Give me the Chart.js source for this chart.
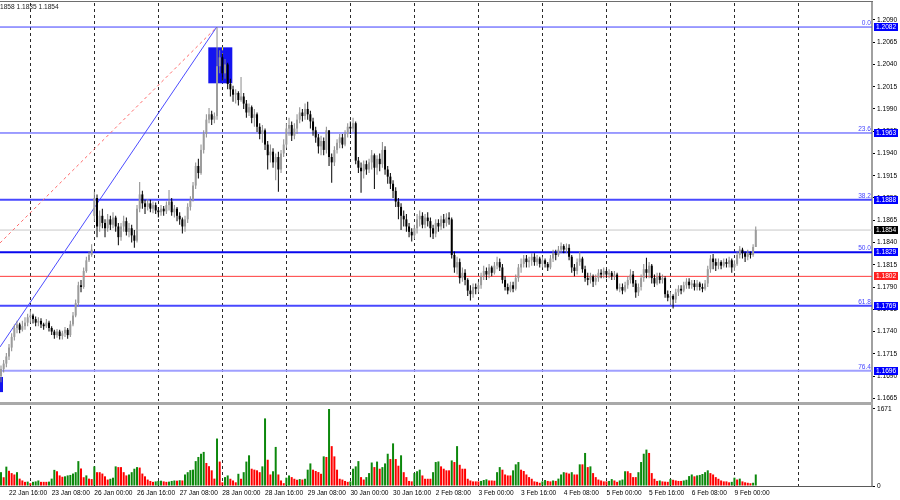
<!DOCTYPE html>
<html>
<head>
<meta charset="utf-8">
<title>EURUSD H1</title>
<script src="https://cdn.jsdelivr.net/npm/chart.js@4.4.1/dist/chart.umd.min.js"></script>
<style>
  html, body { margin: 0; padding: 0; background: #fff; }
  #wrap { position: relative; width: 900px; height: 500px; overflow: hidden; background: #fff; }
  #mainChart { position: absolute; left: 0; top: 0; }
  #volChart { position: absolute; left: 0; top: 405px; }
  .topLine { position: absolute; left: 0; top: 1px; width: 873px; height: 1px; background: #6e6e6e; }
  .splitter { position: absolute; left: 0; top: 402px; width: 873px; height: 3px; background: #a9a9a9; }
  .baseLine { position: absolute; left: 0; top: 486px; width: 873px; height: 1px; background: #5a5a5a; }
  .info { position: absolute; left: 0; top: 3px; font: 6.6px "Liberation Sans", Arial, sans-serif; color: #222; white-space: nowrap; }
</style>
</head>
<body>
<div id="wrap">
  <canvas id="mainChart" width="900" height="405"></canvas>
  <canvas id="volChart" width="900" height="95"></canvas>
  <div class="topLine"></div>
  <div class="splitter"></div>
  <div class="baseLine"></div>
  <div class="info">1858 1.1835 1.1854</div>
</div>
<script>
const FONT = '"Liberation Sans", Arial, sans-serif';

// hourly bars, 22 Jan 13:00 .. 9 Feb 08:00 (bar index = position)
const firstOpen = 1.1690;
const gapBar = 35;          // Monday 26 Jan open gap
const gapOpen = 1.1870;

const closes = [
  1.1698,1.1704,1.1712,1.1722,1.1734,1.1744,1.1748,1.1742,1.1746,1.1750,1.1756,
  1.1758,1.1754,1.1750,1.1752,1.1748,1.1746,1.1750,1.1744,1.1740,1.1736,1.1740,1.1735,1.1738,1.1742,1.1736,1.1748,1.1758,1.1772,1.1792,1.1790,1.1808,1.1820,1.1826,1.1832,
  1.1890,1.1858,1.1870,1.1862,1.1856,1.1866,1.1860,1.1868,1.1858,1.1846,1.1858,1.1864,1.1852,1.1856,1.1848,1.1842,1.1878,1.1894,1.1884,1.1880,1.1884,1.1878,1.1882,1.1876,
  1.1874,1.1878,1.1875,1.1882,1.1886,1.1874,1.1878,1.1870,1.1866,1.1858,1.1866,1.1880,1.1888,1.1904,1.1926,1.1918,1.1944,1.1962,1.1978,1.1984,1.1978,1.1982,1.2038,1.2048,
  1.2030,1.2040,1.2018,1.2012,1.2006,1.2008,1.2000,1.2004,1.1996,1.1986,1.1992,1.1980,1.1984,1.1970,1.1962,1.1966,1.1950,1.1938,1.1942,1.1930,1.1936,1.1922,1.1940,1.1950,
  1.1968,1.1972,1.1960,1.1968,1.1978,1.1986,1.1982,1.1990,1.1984,1.1976,1.1966,1.1958,1.1948,1.1954,1.1944,1.1966,1.1936,1.1930,1.1944,1.1952,1.1958,1.1950,1.1962,1.1970,
  1.1968,1.1974,1.1932,1.1924,1.1920,1.1928,1.1922,1.1930,1.1938,1.1924,1.1934,1.1928,1.1944,1.1922,1.1914,1.1906,1.1898,1.1886,1.1880,1.1870,1.1866,1.1858,1.1852,1.1848,
  1.1856,1.1866,1.1870,1.1860,1.1868,1.1864,1.1856,1.1850,1.1862,1.1858,1.1866,1.1862,1.1868,1.1866,1.1826,1.1812,1.1818,1.1800,1.1806,1.1798,1.1786,1.1782,1.1790,1.1788,
  1.1792,1.1802,1.1808,1.1804,1.1812,1.1806,1.1814,1.1818,1.1812,1.1798,1.1790,1.1786,1.1792,1.1788,1.1800,1.1812,1.1816,1.1822,1.1818,1.1820,1.1824,1.1818,1.1822,1.1816,
  1.1820,1.1816,1.1812,1.1822,1.1828,1.1826,1.1832,1.1836,1.1832,1.1834,1.1824,1.1812,1.1808,1.1818,1.1822,1.1810,1.1800,1.1798,1.1802,1.1796,1.1800,1.1806,1.1804,1.1808,
  1.1804,1.1806,1.1802,1.1804,1.1788,1.1790,1.1786,1.1792,1.1798,1.1804,1.1794,1.1784,1.1790,1.1800,1.1810,1.1806,1.1814,1.1800,1.1794,1.1802,1.1798,1.1800,1.1782,1.1778,
  1.1780,1.1776,1.1784,1.1788,1.1786,1.1792,1.1796,1.1792,1.1794,1.1790,1.1794,1.1790,1.1788,1.1794,1.1810,1.1822,1.1818,1.1814,1.1818,1.1814,1.1818,1.1816,1.1820,1.1812,
  1.1816,1.1826,1.1832,1.1828,1.1824,1.1828,1.1826,1.1835,1.1854
];

const highs = [
  1.1702,1.1708,1.1716,1.1726,1.1738,1.1748,1.1752,1.1750,1.1752,1.1756,1.1760,
  1.1764,1.1760,1.1757,1.1756,1.1755,1.1750,1.1754,1.1752,1.1746,1.1742,1.1743,1.1742,1.1741,1.1745,1.1744,1.1752,1.1762,1.1776,1.1796,1.1798,1.1812,1.1824,1.1830,1.1838,
  1.1897,1.1894,1.1876,1.1878,1.1866,1.1872,1.1870,1.1874,1.1870,1.1862,1.1862,1.1870,1.1868,1.1862,1.1860,1.1854,1.1882,1.1908,1.1898,1.1888,1.1889,1.1888,1.1886,1.1885,
  1.1880,1.1882,1.1881,1.1886,1.1899,1.1890,1.1882,1.1880,1.1874,1.1868,1.1870,1.1884,1.1892,1.1908,1.1930,1.1934,1.1950,1.1966,1.1984,1.1991,1.1988,1.1986,1.2082,1.2056,
  1.2052,1.2046,1.2042,1.2024,1.2016,1.2012,1.2010,1.2026,1.2008,1.2000,1.1996,1.1994,1.1990,1.1986,1.1974,1.1972,1.1968,1.1954,1.1950,1.1946,1.1940,1.1942,1.1944,1.1956,
  1.1974,1.1980,1.1976,1.1974,1.1984,1.1992,1.1990,1.1996,1.1998,1.1988,1.1980,1.1970,1.1962,1.1960,1.1958,1.1970,1.1966,1.1940,1.1948,1.1956,1.1962,1.1962,1.1966,1.1974,
  1.1976,1.1980,1.1976,1.1936,1.1930,1.1932,1.1932,1.1934,1.1944,1.1940,1.1938,1.1940,1.1953,1.1948,1.1926,1.1918,1.1910,1.1902,1.1890,1.1884,1.1876,1.1872,1.1862,1.1856,
  1.1860,1.1872,1.1876,1.1874,1.1872,1.1874,1.1868,1.1860,1.1866,1.1866,1.1870,1.1872,1.1873,1.1874,1.1868,1.1830,1.1824,1.1822,1.1812,1.1810,1.1800,1.1792,1.1794,1.1794,
  1.1796,1.1806,1.1814,1.1812,1.1816,1.1814,1.1818,1.1824,1.1822,1.1816,1.1802,1.1794,1.1796,1.1796,1.1804,1.1816,1.1822,1.1826,1.1826,1.1824,1.1828,1.1828,1.1826,1.1824,
  1.1824,1.1822,1.1818,1.1826,1.1832,1.1832,1.1836,1.1840,1.1838,1.1839,1.1838,1.1826,1.1816,1.1822,1.1830,1.1824,1.1814,1.1806,1.1806,1.1804,1.1804,1.1810,1.1810,1.1812,
  1.1810,1.1810,1.1808,1.1808,1.1806,1.1794,1.1794,1.1796,1.1802,1.1810,1.1808,1.1798,1.1794,1.1804,1.1816,1.1823,1.1818,1.1816,1.1804,1.1806,1.1806,1.1804,1.1802,1.1786,
  1.1784,1.1782,1.1788,1.1792,1.1792,1.1796,1.1800,1.1800,1.1798,1.1798,1.1798,1.1796,1.1794,1.1798,1.1814,1.1826,1.1827,1.1822,1.1822,1.1820,1.1822,1.1822,1.1824,1.1822,
  1.1820,1.1830,1.1836,1.1834,1.1830,1.1832,1.1830,1.1838,1.1858
];

const lows = [
  1.1683,1.1694,1.1700,1.1708,1.1718,1.1730,1.1738,1.1738,1.1740,1.1742,1.1746,
  1.1750,1.1749,1.1746,1.1746,1.1744,1.1742,1.1744,1.1740,1.1736,1.1732,1.1733,1.1731,1.1731,1.1734,1.1732,1.1734,1.1746,1.1756,1.1768,1.1784,1.1788,1.1806,1.1818,1.1824,
  1.1864,1.1846,1.1852,1.1856,1.1846,1.1852,1.1854,1.1856,1.1852,1.1837,1.1842,1.1852,1.1848,1.1846,1.1840,1.1834,1.1840,1.1874,1.1878,1.1872,1.1876,1.1874,1.1873,1.1872,
  1.1868,1.1870,1.1870,1.1872,1.1876,1.1870,1.1868,1.1864,1.1860,1.1850,1.1852,1.1862,1.1876,1.1886,1.1900,1.1912,1.1916,1.1940,1.1958,1.1974,1.1972,1.1974,1.1978,1.2030,
  1.2022,1.2024,1.2012,1.2004,1.1998,1.1996,1.1994,1.1998,1.1990,1.1980,1.1982,1.1974,1.1970,1.1964,1.1956,1.1952,1.1944,1.1922,1.1930,1.1924,1.1910,1.1897,1.1918,1.1936,
  1.1946,1.1960,1.1954,1.1956,1.1962,1.1974,1.1976,1.1978,1.1978,1.1968,1.1960,1.1952,1.1940,1.1938,1.1938,1.1940,1.1926,1.1907,1.1926,1.1940,1.1946,1.1946,1.1948,1.1958,
  1.1962,1.1964,1.1928,1.1918,1.1896,1.1912,1.1916,1.1918,1.1922,1.1900,1.1916,1.1920,1.1924,1.1916,1.1906,1.1900,1.1890,1.1880,1.1866,1.1854,1.1858,1.1852,1.1846,1.1841,
  1.1844,1.1850,1.1858,1.1856,1.1856,1.1858,1.1846,1.1844,1.1846,1.1852,1.1854,1.1856,1.1858,1.1860,1.1822,1.1806,1.1804,1.1794,1.1796,1.1792,1.1780,1.1775,1.1778,1.1782,
  1.1784,1.1788,1.1798,1.1798,1.1800,1.1802,1.1804,1.1810,1.1808,1.1794,1.1786,1.1782,1.1784,1.1784,1.1786,1.1796,1.1806,1.1812,1.1812,1.1812,1.1814,1.1814,1.1814,1.1812,
  1.1812,1.1812,1.1808,1.1810,1.1818,1.1820,1.1824,1.1828,1.1828,1.1828,1.1820,1.1806,1.1802,1.1804,1.1814,1.1806,1.1796,1.1792,1.1794,1.1790,1.1792,1.1796,1.1800,1.1800,
  1.1800,1.1800,1.1798,1.1798,1.1786,1.1784,1.1782,1.1784,1.1788,1.1794,1.1790,1.1778,1.1780,1.1786,1.1796,1.1800,1.1800,1.1794,1.1790,1.1792,1.1794,1.1794,1.1778,1.1774,
  1.1770,1.1766,1.1772,1.1780,1.1782,1.1784,1.1788,1.1788,1.1788,1.1786,1.1786,1.1786,1.1784,1.1786,1.1790,1.1806,1.1810,1.1808,1.1810,1.1810,1.1812,1.1812,1.1812,1.1806,
  1.1808,1.1814,1.1822,1.1822,1.1818,1.1820,1.1822,1.1824,1.1835
];

const volumes = [
  300,190,420,330,280,250,300,160,120,90,95,
  62,90,100,120,90,90,90,95,160,350,320,230,200,210,230,240,270,300,540,380,190,230,160,150,
  426,300,300,270,210,140,157,180,426,410,410,300,230,250,300,375,410,400,270,210,140,110,90,100,
  110,115,100,90,95,110,120,115,125,120,250,300,345,355,540,630,700,740,500,430,340,160,1030,530,
  80,193,229,157,120,80,265,157,300,530,666,375,355,340,300,426,1467,570,250,320,848,250,120,62,
  180,229,193,157,135,150,140,157,354,490,354,325,302,265,643,630,1671,865,643,354,157,140,110,90,
  100,375,426,540,193,140,193,280,510,410,530,375,410,490,700,585,925,585,440,666,300,193,110,100,
  280,320,354,229,157,157,157,300,520,533,426,375,340,340,555,520,865,460,375,375,157,120,100,100,
  100,110,130,145,120,120,115,300,410,354,250,229,229,340,470,520,354,325,250,193,157,100,90,70,
  100,130,110,100,120,110,160,250,300,290,270,300,250,250,470,470,717,410,426,280,193,140,120,100,
  100,110,150,120,90,120,140,320,320,280,193,193,300,520,700,790,717,280,157,110,120,100,95,90,
  150,135,120,110,110,120,135,215,250,210,230,240,260,300,340,280,250,193,157,120,100,100,80,90,
  180,140,160,100,80,70,60,70,250
];

// axis ticks
const priceTicks = [1.1665,1.1690,1.1715,1.1740,1.1765,1.1790,1.1815,1.1840,1.1865,1.1890,1.1915,1.1940,1.1965,1.1990,1.2015,1.2040,1.2065,1.2090];
const volTicks = [0, 1671];
const gridBars = [11, 35, 59, 83, 107, 131, 155, 179, 203, 227, 251, 275, 299];
const labelBars = [3, 19, 35, 51, 67, 83, 99, 115, 131, 147, 163, 179, 195, 211, 227, 243, 259, 275];
const timeLabels = ["22 Jan 16:00","23 Jan 08:00","26 Jan 00:00","26 Jan 16:00","27 Jan 08:00","28 Jan 00:00",
  "28 Jan 16:00","29 Jan 08:00","30 Jan 00:00","30 Jan 16:00","2 Feb 08:00","3 Feb 00:00","3 Feb 16:00",
  "4 Feb 08:00","5 Feb 00:00","5 Feb 16:00","6 Feb 08:00","9 Feb 00:00"];

// fibonacci retracement and other objects
const fibNames = ["0.0", "23.6", "38.2", "50.0", "61.8", "76.4"];
const fibLevels = [1.2082, 1.1963, 1.1888, 1.1829, 1.1769, 1.1696];
const redLevel = 1.1802;
const trendBars = [-0.375, 80.88];
const trendBlue = [1.17227, 1.2082];
const trendRed = [1.18395, 1.2082];
const boxBars = [[77.73, 86.73], [-0.375, 0.75]];
const boxPrices = [[1.20592, 1.20188], [1.1689, 1.1672]];

const X_MIN = -0.375, X_MAX = 326.58;
const PRICE_MIN = 1.1662, PRICE_MAX = 1.2109;
const VOL_MAX = 1736;

const fibColors = ["#3c3cff", "#3c3cff", "#4848ff", "#0808ee", "#4848ff", "#a0a0ff"];
const fibWidths = [1, 1, 2, 2, 2, 2];

const opens = closes.map((c, i) => i === 0 ? firstOpen : (i === gapBar ? gapOpen : closes[i - 1]));
const bidPrice = closes[closes.length - 1];
const isUp = closes.map((c, i) => c >= opens[i]);

const bodyData = closes.map((c, i) => ({ x: i, y: [Math.min(opens[i], c), Math.max(opens[i], c)] }));
const wickData = closes.map((c, i) => ({
    x: i,
    y: [Math.min(lows[i], opens[i], c), Math.max(highs[i], opens[i], c)]
}));

function hLine(price, color, width, order) {
    return {
        type: "line",
        data: [{ x: X_MIN, y: price }, { x: X_MAX, y: price }],
        borderColor: color, borderWidth: width, pointRadius: 0, fill: false, order
    };
}

const lineSets = fibLevels.map((p, k) => hLine(p, fibColors[k], fibWidths[k], 4));
lineSets.push(hLine(redLevel, "#ff3a3a", 1, 4));
lineSets.push(hLine(bidPrice, "#c8c8c8", 1, 5));
lineSets.push({
    type: "line",
    data: trendBars.map((b, k) => ({ x: b, y: trendRed[k] })),
    borderColor: "#ff6a6a", borderWidth: 1, borderDash: [3, 3], pointRadius: 0, fill: false, order: 3
});
lineSets.push({
    type: "line",
    data: trendBars.map((b, k) => ({ x: b, y: trendBlue[k] })),
    borderColor: "#4c4cff", borderWidth: 1, pointRadius: 0, fill: false, order: 2
});

const gridTicks = s => { s.ticks = gridBars.map(v => ({ value: v })); };
const noPad = s => { s.paddingTop = 0; s.paddingBottom = 0; s.paddingLeft = 0; s.paddingRight = 0; };

const mainOverlay = {
    id: "mainOverlay",
    beforeDatasetsDraw(chart) {
        const { ctx, chartArea: a, scales: { x, y } } = chart;
        ctx.save();
        ctx.beginPath();
        ctx.rect(a.left, a.top, a.right - a.left, a.bottom - a.top);
        ctx.clip();
        boxBars.forEach((b, k) => {
            const x0 = x.getPixelForValue(b[0]), x1 = x.getPixelForValue(b[1]);
            const y0 = y.getPixelForValue(boxPrices[k][0]), y1 = y.getPixelForValue(boxPrices[k][1]);
            ctx.fillStyle = "#1414f0";
            ctx.fillRect(x0, y0, x1 - x0, y1 - y0);
            // grid line shows through the box in yellow
            ctx.strokeStyle = "#ffff00";
            ctx.lineWidth = 1;
            ctx.setLineDash([3, 3]);
            gridBars.filter(g => g > b[0] && g < b[1]).forEach(g => {
                const gx = Math.round(x.getPixelForValue(g) - 0.5) + 0.5;
                ctx.beginPath();
                ctx.moveTo(gx, y0);
                ctx.lineTo(gx, y1);
                ctx.stroke();
            });
            ctx.setLineDash([]);
        });
        ctx.restore();
    },
    afterDraw(chart) {
        const { ctx, chartArea: a, scales: { y } } = chart;
        ctx.save();
        ctx.font = "6.6px " + FONT;

        // level names
        ctx.fillStyle = "#4646ff";
        ctx.textAlign = "right";
        ctx.textBaseline = "alphabetic";
        fibLevels.forEach((p, k) => ctx.fillText(fibNames[k], a.right - 1, y.getPixelForValue(p) - 2));

        // price tags on the axis
        const tags = fibLevels.map(p => [p, "#0000ff"]);
        tags.push([bidPrice, "#000000"], [redLevel, "#ff2020"]);
        ctx.textAlign = "left";
        ctx.textBaseline = "middle";
        tags.forEach(([p, bg]) => {
            const py = y.getPixelForValue(p);
            ctx.fillStyle = bg;
            ctx.fillRect(a.right + 2, Math.round(py) - 4, 24, 8);
            ctx.fillStyle = "#ffffff";
            ctx.fillText(p.toFixed(4), a.right + 4, Math.round(py) + 0.5);
        });
        ctx.restore();
    }
};

// shared settings for the bar-index axis
const barAxis = {
    type: "linear", min: X_MIN, max: X_MAX, offset: false, weight: 0,
    afterBuildTicks: gridTicks,
    afterFit: s => { s.height = 0; noPad(s); },
    ticks: { display: false },
    grid: { color: "#2a2a2a", lineWidth: 1, drawTicks: false, offset: false },
    border: { display: false, dash: [3, 3] }
};

new Chart(document.getElementById("mainChart"), {
    type: "bar",
    data: {
        datasets: [
            {
                data: bodyData,
                backgroundColor: isUp.map(u => u ? "#9c9c9c" : "#000000"),
                grouped: false, categoryPercentage: 1, barPercentage: 1,
                maxBarThickness: 2, minBarLength: 1, inflateAmount: 0, order: 0
            },
            {
                data: wickData,
                backgroundColor: isUp.map(u => u ? "#8a8a8a" : "#000000"),
                grouped: false, categoryPercentage: 1, barPercentage: 1,
                maxBarThickness: 1, inflateAmount: 0, order: 1
            },
            ...lineSets
        ]
    },
    options: {
        responsive: false,
        animation: false,
        devicePixelRatio: 1,
        layout: { padding: { top: 3, bottom: 4, left: 0, right: 0 }, autoPadding: false },
        plugins: { legend: { display: false }, tooltip: { enabled: false } },
        scales: {
            x: barAxis,
            y: {
                position: "right", min: PRICE_MIN, max: PRICE_MAX,
                afterBuildTicks: s => { s.ticks = priceTicks.map(v => ({ value: v })); },
                afterFit: s => { s.width = 28; noPad(s); },
                ticks: {
                    autoSkip: false, padding: 2, color: "#000",
                    font: { size: 6.6, family: FONT },
                    callback: v => Number(v).toFixed(4)
                },
                grid: { drawOnChartArea: false, drawTicks: true, tickLength: 3, color: "#000" },
                border: { display: true, color: "#a0a0a0", width: 2 }
            }
        }
    },
    plugins: [mainOverlay]
});

const volColors = volumes.map((v, i) => (i === 0 || v > volumes[i - 1]) ? "#0c880c" : "#ff0000");

new Chart(document.getElementById("volChart"), {
    type: "bar",
    data: {
        datasets: [{
            data: volumes.map((v, i) => ({ x: i, y: v })),
            backgroundColor: volColors,
            grouped: false, categoryPercentage: 1, barPercentage: 1,
            maxBarThickness: 2, inflateAmount: 0
        }]
    },
    options: {
        responsive: false,
        animation: false,
        devicePixelRatio: 1,
        layout: { padding: { top: 1, bottom: 0, left: 0, right: 0 }, autoPadding: false },
        plugins: { legend: { display: false }, tooltip: { enabled: false } },
        scales: {
            x: barAxis,
            xl: {
                type: "linear", position: "bottom", min: X_MIN, max: X_MAX, offset: false, weight: 1,
                afterBuildTicks: s => { s.ticks = labelBars.map(v => ({ value: v })); },
                afterFit: s => { s.height = 14; noPad(s); },
                ticks: {
                    autoSkip: false, maxRotation: 0, minRotation: 0, align: "start", padding: 3,
                    color: "#000", font: { size: 6.6, family: FONT },
                    callback: (v, i) => timeLabels[i]
                },
                grid: { display: false, drawTicks: false, offset: false },
                border: { display: false }
            },
            y: {
                position: "right", min: 0, max: VOL_MAX,
                afterBuildTicks: s => { s.ticks = volTicks.map(v => ({ value: v })); },
                afterFit: s => { s.width = 28; noPad(s); },
                ticks: {
                    autoSkip: false, padding: 2, color: "#000",
                    font: { size: 6.6, family: FONT },
                    callback: v => String(v)
                },
                grid: { drawOnChartArea: false, drawTicks: true, tickLength: 3, color: "#000" },
                border: { display: true, color: "#a0a0a0", width: 2 }
            }
        }
    }
});
</script>
</body>
</html>
